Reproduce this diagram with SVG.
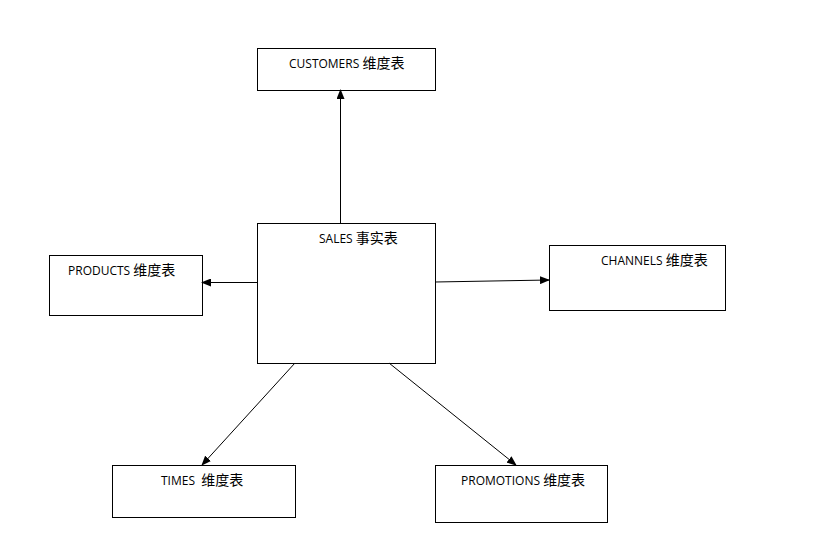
<svg xmlns="http://www.w3.org/2000/svg" width="814" height="536" viewBox="0 0 814 536">
<style>
rect{fill:#fff;stroke:#000;stroke-width:1}
text{font-family:"Open Sans","Noto Sans CJK SC",sans-serif;font-size:12px;fill:#000;white-space:pre}
.c{font-family:"Noto Sans CJK SC",sans-serif;font-size:14px}
line{stroke:#000;stroke-width:1}
</style>
<defs><marker id="a" markerWidth="10" markerHeight="8" refX="9" refY="4" orient="auto" markerUnits="userSpaceOnUse"><path d="M0,0L10,4L0,8z" fill="#000"/></marker></defs>
<rect x="0" y="0" width="814" height="536" style="stroke:none"/>
<g id="customers"><rect x="257.5" y="48.5" width="178" height="42"/><text x="289" y="68">CUSTOMERS <tspan class="c">维度表</tspan></text></g>
<g id="sales"><rect x="257.5" y="223.5" width="178" height="140"/><text x="319" y="243">SALES <tspan class="c">事实表</tspan></text></g>
<g id="products"><rect x="49.5" y="255.5" width="153" height="60"/><text x="68" y="275">PRODUCTS <tspan class="c">维度表</tspan></text></g>
<g id="channels"><rect x="549.5" y="245.5" width="176" height="65"/><text x="601" y="265">CHANNELS <tspan class="c">维度表</tspan></text></g>
<g id="times"><rect x="112.5" y="465.5" width="183" height="52"/><text x="161" y="485">TIMES  <tspan class="c">维度表</tspan></text></g>
<g id="promotions"><rect x="435.5" y="465.5" width="172" height="57"/><text x="461" y="485">PROMOTIONS <tspan class="c">维度表</tspan></text></g>
<g id="connectors">
<line x1="340.5" y1="223" x2="340.5" y2="90" marker-end="url(#a)"/>
<line x1="257" y1="282.5" x2="202" y2="282.5" marker-end="url(#a)"/>
<line x1="435" y1="282" x2="549" y2="280" marker-end="url(#a)"/>
<line x1="295" y1="363" x2="202" y2="465" marker-end="url(#a)"/>
<line x1="389" y1="363" x2="516" y2="465" marker-end="url(#a)"/>
</g>
</svg>
